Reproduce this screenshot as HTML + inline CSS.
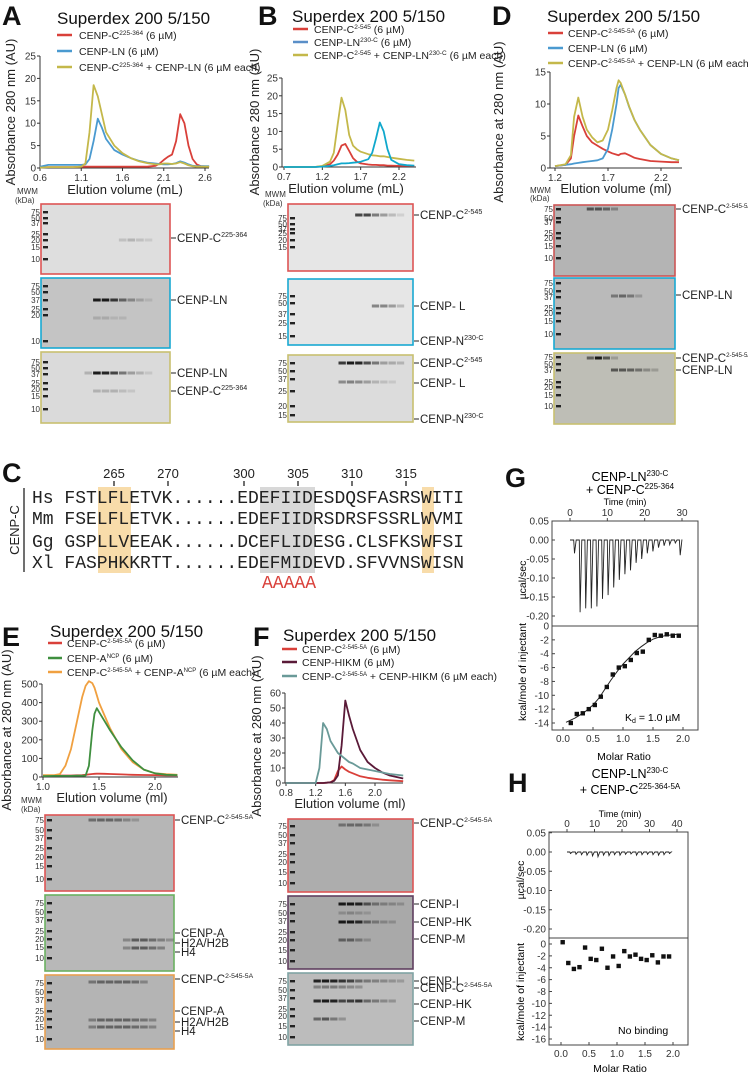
<!DOCTYPE html>
<html><head><meta charset="utf-8">
<style>
html,body{margin:0;padding:0;background:#fff;}
svg{display:block;font-family:"Liberation Sans",Arial,sans-serif;}
.lbl{font-size:10.5px;fill:#222}
.tk{font-size:10px;fill:#333}
.big{font-size:27px;font-weight:bold;fill:#111}
.ttl{font-size:17px;fill:#111}
.axt{font-size:13px;fill:#222}
.gl{font-size:11.5px;fill:#222}
.mk{font-size:8px;fill:#333}
.seq{font-family:"Liberation Mono",monospace;font-size:18px;fill:#222}
</style></head>
<body>
<svg id="fig" width="748" height="1075" viewBox="0 0 748 1075" xmlns="http://www.w3.org/2000/svg">
<!-- Panel A -->
<g>
<text class="big" x="2" y="25">A</text>
<text class="ttl" x="57" y="24">Superdex 200 5/150</text>
<g>
<line x1="57" x2="72" y1="35" y2="35" stroke="#d9403a" stroke-width="2.5"/>
<text class="lbl" x="79" y="39" font-size="10">CENP-C<tspan font-size="6.5" dy="-4">225-364</tspan><tspan dy="4"> (6 µM)</tspan></text>
<line x1="57" x2="72" y1="51" y2="51" stroke="#4a9ad0" stroke-width="2.5"/>
<text class="lbl" x="79" y="55" font-size="10">CENP-LN (6 µM)</text>
<line x1="57" x2="72" y1="67" y2="67" stroke="#c4b84a" stroke-width="2.5"/>
<text class="lbl" x="79" y="71" font-size="10">CENP-C<tspan font-size="6.5" dy="-4">225-364</tspan><tspan dy="4"> + CENP-LN (6 µM each)</tspan></text>
</g>
<text class="axt" transform="translate(15,112) rotate(-90)" text-anchor="middle">Absorbance 280 nm (AU)</text>
<text class="axt" x="125" y="194" text-anchor="middle">Elution volume (mL)</text>
<text class="mk" x="17" y="194" font-size="8.5">MWM</text><text class="mk" x="15" y="203" font-size="8.5">(kDa)</text>
</g>
<!-- Panel B -->
<g>
<text class="big" x="258" y="25">B</text>
<text class="ttl" x="292" y="22">Superdex 200 5/150</text>
<g>
<line x1="293" x2="308" y1="29" y2="29" stroke="#d9403a" stroke-width="2.5"/>
<text class="lbl" x="314" y="33" font-size="10">CENP-C<tspan font-size="6.5" dy="-4">2-545</tspan><tspan dy="4"> (6 µM)</tspan></text>
<line x1="293" x2="308" y1="42" y2="42" stroke="#5a8fc8" stroke-width="2.5"/>
<text class="lbl" x="314" y="46" font-size="10">CENP-LN<tspan font-size="6.5" dy="-4">230-C</tspan><tspan dy="4"> (6 µM)</tspan></text>
<line x1="293" x2="308" y1="55" y2="55" stroke="#c4b84a" stroke-width="2.5"/>
<text class="lbl" x="314" y="59" font-size="10">CENP-C<tspan font-size="6.5" dy="-4">2-545</tspan><tspan dy="4"> + CENP-LN</tspan><tspan font-size="6.5" dy="-4">230-C</tspan><tspan dy="4"> (6 µM each)</tspan></text>
</g>
<text class="axt" transform="translate(259,122) rotate(-90)" text-anchor="middle">Absorbance 280 nm (AU)</text>
<text class="axt" x="346" y="193" text-anchor="middle">Elution volume (mL)</text>
<text class="mk" x="265" y="197" font-size="8.5">MWM</text><text class="mk" x="263" y="206" font-size="8.5">(kDa)</text>
</g>
<!-- Panel D -->
<g>
<text class="big" x="492" y="25">D</text>
<text class="ttl" x="547" y="22">Superdex 200 5/150</text>
<g>
<line x1="548" x2="563" y1="33" y2="33" stroke="#d9403a" stroke-width="2.5"/>
<text class="lbl" x="568" y="37" font-size="10">CENP-C<tspan font-size="6.5" dy="-4">2-545-5A</tspan><tspan dy="4"> (6 µM)</tspan></text>
<line x1="548" x2="563" y1="48" y2="48" stroke="#4a9ad0" stroke-width="2.5"/>
<text class="lbl" x="568" y="52" font-size="10">CENP-LN (6 µM)</text>
<line x1="548" x2="563" y1="63" y2="63" stroke="#c4b84a" stroke-width="2.5"/>
<text class="lbl" x="568" y="67" font-size="9.5">CENP-C<tspan font-size="6.5" dy="-4">2-545-5A</tspan><tspan dy="4"> + CENP-LN (6 µM each)</tspan></text>
</g>
<text class="axt" transform="translate(503,122) rotate(-90)" text-anchor="middle">Absorbance at 280 nm (AU)</text>
<text class="axt" x="616" y="193" text-anchor="middle">Elution volume (ml)</text>
<text class="mk" x="530" y="193" font-size="8">MWM</text><text class="mk" x="530" y="201" font-size="8">(kDa)</text>
</g>
<!-- Panel C -->
<g>
<text class="big" x="2" y="482">C</text>
<rect x="98" y="487" width="33" height="86" fill="#f8dcaa"/>
<rect x="260" y="487" width="55" height="86" fill="#d8d8d8"/>
<rect x="422" y="487" width="12" height="86" fill="#f8dcaa"/>
<g font-size="13" fill="#222" text-anchor="middle">
<text x="114" y="478">265</text><text x="168" y="478">270</text>
<text x="244" y="478">300</text><text x="298" y="478">305</text>
<text x="352" y="478">310</text><text x="406" y="478">315</text>
<path d="M114 481v5M168 481v5M244 481v5M298 481v5M352 481v5M406 481v5" stroke="#222" stroke-width="1.3"/>
</g>
<line x1="24" y1="488" x2="24" y2="572" stroke="#222" stroke-width="1.3"/>
<text class="axt" font-size="15" transform="translate(19,530) rotate(-90)" text-anchor="middle">CENP-C</text>
<g>
<text class="seq" x="32" y="503">Hs FSTLFLETVK......EDEFIIDESDQSFASRSWITI</text>
<text class="seq" x="32" y="524">Mm FSELFLETVK......EDEFIIDRSDRSFSSRLWVMI</text>
<text class="seq" x="32" y="547">Gg GSPLLVEEAK......DCEFLIDESG.CLSFKSWFSI</text>
<text class="seq" x="32" y="568">Xl FASPHKKRTT......EDEFMIDEVD.SFVVNSWISN</text>
<text class="seq" x="262" y="588" fill="#d9403a" style="fill:#d9403a">AAAAA</text>
</g>
</g>
<!-- Panel E -->
<g>
<text class="big" x="2" y="646">E</text>
<text class="ttl" x="50" y="637">Superdex 200 5/150</text>
<g>
<line x1="48" x2="62" y1="643" y2="643" stroke="#d9403a" stroke-width="2.5"/>
<text class="lbl" x="67" y="647" font-size="9.5">CENP-C<tspan font-size="6" dy="-4">2-545-5A</tspan><tspan dy="4"> (6 µM)</tspan></text>
<line x1="48" x2="62" y1="658" y2="658" stroke="#3f8f3f" stroke-width="2.5"/>
<text class="lbl" x="67" y="662" font-size="9.5">CENP-A<tspan font-size="6" dy="-4">NCP</tspan><tspan dy="4">  (6 µM)</tspan></text>
<line x1="48" x2="62" y1="672" y2="672" stroke="#f0a040" stroke-width="2.5"/>
<text class="lbl" x="67" y="676" font-size="9.5">CENP-C<tspan font-size="6" dy="-4">2-545-5A</tspan><tspan dy="4"> + CENP-A</tspan><tspan font-size="6" dy="-4">NCP</tspan><tspan dy="4">  (6 µM each)</tspan></text>
</g>
<text class="axt" transform="translate(11,730) rotate(-90)" text-anchor="middle">Absorbance at 280 nm (AU)</text>
<text class="axt" x="112" y="802" text-anchor="middle">Elution volume (ml)</text>
<text class="mk" x="21" y="803">MWM</text><text class="mk" x="21" y="812">(kDa)</text>
</g>
<!-- Panel F -->
<g>
<text class="big" x="253" y="646">F</text>
<text class="ttl" x="283" y="641">Superdex 200 5/150</text>
<g>
<line x1="282" x2="297" y1="649" y2="649" stroke="#d9403a" stroke-width="2.5"/>
<text class="lbl" x="302" y="653" font-size="9.5">CENP-C<tspan font-size="6" dy="-4">2-545-5A</tspan><tspan dy="4"> (6 µM)</tspan></text>
<line x1="282" x2="297" y1="662" y2="662" stroke="#5a1a38" stroke-width="2.5"/>
<text class="lbl" x="302" y="666" font-size="9.5">CENP-HIKM  (6 µM)</text>
<line x1="282" x2="297" y1="676" y2="676" stroke="#6a9a98" stroke-width="2.5"/>
<text class="lbl" x="302" y="680" font-size="9.5">CENP-C<tspan font-size="6" dy="-4">2-545-5A</tspan><tspan dy="4"> + CENP-HIKM  (6 µM each)</tspan></text>
</g>
<text class="axt" transform="translate(261,736) rotate(-90)" text-anchor="middle">Absorbance at 280 nm (AU)</text>
<text class="axt" x="350" y="808" text-anchor="middle">Elution volume (ml)</text>
</g>
<!-- Panel G -->
<g>
<text class="big" x="505" y="487">G</text>
<text x="630" y="481" font-size="12.5" text-anchor="middle">CENP-LN<tspan font-size="8" dy="-5">230-C</tspan></text>
<text x="630" y="494" font-size="12.5" text-anchor="middle">+ CENP-C<tspan font-size="8" dy="-5">225-364</tspan></text>
<text x="625" y="505" font-size="9" text-anchor="middle">Time (min)</text>
<text x="526" y="580" font-size="10.5" text-anchor="middle" transform="rotate(-90,526,580)">µcal/sec</text>
<text x="526" y="672" font-size="10.5" text-anchor="middle" transform="rotate(-90,526,672)">kcal/mole of injectant</text>
<text x="624" y="760" font-size="10.5" text-anchor="middle">Molar Ratio</text>
<text x="625" y="721" font-size="10.5">K<tspan font-size="7" dy="2">d</tspan><tspan dy="-2"> = 1.0 µM</tspan></text>
</g>
<!-- Panel H -->
<g>
<text class="big" x="508" y="792">H</text>
<text x="630" y="778" font-size="12.5" text-anchor="middle">CENP-LN<tspan font-size="8" dy="-5">230-C</tspan></text>
<text x="630" y="794" font-size="12.5" text-anchor="middle">+ CENP-C<tspan font-size="8" dy="-5">225-364-5A</tspan></text>
<text x="620" y="817" font-size="9" text-anchor="middle">Time (min)</text>
<text x="524" y="880" font-size="10.5" text-anchor="middle" transform="rotate(-90,524,880)">µcal/sec</text>
<text x="524" y="992" font-size="10.5" text-anchor="middle" transform="rotate(-90,524,992)">kcal/mole of injectant</text>
<text x="620" y="1072" font-size="10.5" text-anchor="middle">Molar Ratio</text>
<text x="618" y="1034" font-size="10.5">No binding</text>
</g>
<g id="dyn"></g>
</svg>
<script>
// ---------- SEC chart data ----------
const aX = [0.6,0.7,0.8,1.0,1.1,1.15,1.2,1.25,1.3,1.35,1.4,1.5,1.6,1.7,1.8,1.9,2.0,2.05,2.1,2.15,2.2,2.25,2.3,2.35,2.4,2.45,2.5,2.55,2.65];
const aRed = [0.2,0.2,0.2,0.2,0.3,0.3,0.3,0.3,0.3,0.3,0.3,0.3,0.3,0.3,0.3,0.3,0.5,1,1.8,2.5,3,6,12,10,5,2,0.8,0.4,0.3];
const aBlue = [0.3,0.7,0.7,0.7,0.7,0.8,2,6,11,9,6.5,4,3,2.2,1.6,1.2,1,0.9,0.8,0.8,0.9,1.1,1.5,1.2,0.8,0.5,0.4,0.4,0.4];
const aYel = [0.1,0.2,0.2,0.2,0.3,1,8,18.5,16,12,8,5,3.3,2.2,1.5,1.1,0.8,0.8,1,1,0.9,1,1.3,1,0.6,0.4,0.3,0.3,0.3];
const aYTicks = [0,5,10,15,20,25];
const aXTicks = [0.6,1.1,1.6,2.1,2.6];

const bX = [0.7,0.9,1.1,1.2,1.3,1.35,1.4,1.45,1.5,1.55,1.6,1.65,1.7,1.8,1.85,1.9,1.95,2.0,2.05,2.1,2.2,2.3,2.4];
const bRed = [0,0,0,0.2,0.8,1.8,3.5,6,6.5,4.5,2.5,1.5,1,0.7,0.6,0.6,0.5,0.5,0.4,0.4,0.3,0.3,0.3];
const bCyan = [0,0,0,0.1,0.3,0.5,0.8,1,1,1.1,1.2,1.3,1.5,2.2,4,8,12.5,10,5,2,0.8,0.5,0.4];
const bYel = [0,0,0,0.3,1.5,4,12,19.5,16,9,6,5,4.3,3.6,3.3,3.2,3,3,2.8,2.6,2.3,2,1.8];
const bYTicks = [0,5,10,15,20,25];
const bXTicks = [0.7,1.2,1.7,2.2];

const dX = [1.2,1.3,1.35,1.38,1.42,1.46,1.5,1.55,1.6,1.65,1.7,1.74,1.78,1.8,1.82,1.86,1.9,1.95,2.0,2.1,2.2,2.3,2.37];
const dRed = [0.3,0.5,1.5,5,8.2,6.5,5,4,3.5,3,2.6,2.3,2.1,2,2.2,2.3,2,1.6,1.4,1.1,1,0.9,0.9];
const dBlue = [0.3,0.5,0.6,0.7,0.8,0.9,1,1.1,1.2,1.5,3,6,10,12.5,13,11.5,9.5,7.5,6,3.6,2.2,1.5,1.2];
const dYel = [0.3,0.6,2,8,11,8,6,4.8,4,4.3,6,9,12.5,13.7,13.3,11.5,9.6,7.5,6,3.6,2.2,1.5,1.2];
const dYTicks = [0,5,10,15];
const dXTicks = [1.2,1.7,2.2];

const eX = [1.0,1.1,1.15,1.2,1.25,1.3,1.35,1.38,1.41,1.44,1.46,1.48,1.5,1.55,1.6,1.7,1.8,1.9,2.0,2.1,2.2];
const eRed = [8,8,8,8,8,9,10,12,14,16,17,18,18,17,16,14,12,11,10,9,9];
const eGreen = [5,6,6,6,6,7,7,8,60,250,340,370,350,300,250,160,90,40,20,12,10];
const eOrange = [10,10,15,60,150,290,430,490,515,505,480,440,400,330,260,150,80,40,20,15,12];
const eYTicks = [0,100,200,300,400,500];
const eXTicks = [1.0,1.5,2.0];

const fX = [0.8,1.0,1.2,1.25,1.3,1.35,1.4,1.45,1.5,1.55,1.6,1.65,1.7,1.8,1.9,2.0,2.1,2.2,2.38];
const fRed = [0,0,0,0,0,0.2,0.5,2,8,11,9,7.5,6.5,4.5,3.5,2.8,2.2,1.8,1.2];
const fPurple = [0,0,0,0,0,0.2,0.5,1.5,5,25,55,45,36,22,14,10,7,5,3];
const fTeal = [0,0,0,10,40,36,28,24,20,18,16,14,13,10,9,8,7,6,5];
const fYTicks = [0,10,20,30,40,50,60];
const fXTicks = [0.8,1.2,1.6,2.0];

// ---------- ITC data ----------
const gInjTime = [1,2.5,4,5.5,7,8.5,10,11.5,13,14.5,16,17.5,19,20.5,22,23.5,25,26.5,28,29.3];
const gInjPeak = [-0.035,-0.19,-0.18,-0.18,-0.175,-0.155,-0.145,-0.125,-0.105,-0.09,-0.08,-0.06,-0.05,-0.035,-0.03,-0.02,-0.015,-0.012,-0.008,-0.04];
const gRatio = [0.13,0.23,0.33,0.43,0.53,0.63,0.73,0.83,0.93,1.03,1.13,1.23,1.33,1.43,1.53,1.63,1.73,1.83,1.93];
const gHeat = [-14,-12.7,-12.6,-12,-11.4,-10.2,-8.8,-7,-6,-5.8,-4.9,-3.9,-3.7,-2,-1.3,-1.4,-1.2,-1.4,-1.4];
const gFitX = [0.05,0.2,0.35,0.5,0.6,0.7,0.8,0.9,1.0,1.1,1.2,1.3,1.4,1.5,1.6,1.7,1.8,1.9];
const gFitY = [-13.9,-13.3,-12.5,-11.4,-10.4,-9.1,-7.8,-6.6,-5.5,-4.6,-3.7,-3.0,-2.4,-1.9,-1.6,-1.4,-1.3,-1.2];
const gTopTicks = [0.05,0.00,-0.05,-0.10,-0.15,-0.20];
const gBotTicks = [0,-2,-4,-6,-8,-10,-12,-14];
const gTimeTicks = [0,10,20,30];
const gRatioTicks = [0.0,0.5,1.0,1.5,2.0];

const hInjTime = [1,3,5,7,9,11,13,15,17,19,21,23,25,27,29,31,33,35,37];
const hInjPeak = [-0.004,-0.006,-0.007,-0.008,-0.01,-0.012,-0.008,-0.009,-0.007,-0.008,-0.006,-0.005,-0.008,-0.007,-0.006,-0.007,-0.008,-0.007,-0.004];
const hRatio = [0.03,0.13,0.23,0.33,0.43,0.53,0.63,0.73,0.83,0.93,1.03,1.13,1.23,1.33,1.43,1.53,1.63,1.73,1.83,1.93];
const hHeat = [0.3,-3.2,-4.2,-3.9,-0.6,-2.5,-2.7,-0.8,-4.0,-2.1,-3.7,-1.2,-2.1,-1.8,-2.5,-2.7,-1.9,-3.1,-2.1,-2.1];
const hTopTicks = [0.05,0.00,-0.05,-0.10,-0.15,-0.20];
const hBotTicks = [0,-2,-4,-6,-8,-10,-12,-14,-16];
const hTimeTicks = [0,10,20,30,40];
const hRatioTicks = [0.0,0.5,1.0,1.5,2.0];

const NS = "http://www.w3.org/2000/svg";
const dyn = document.getElementById('dyn');
function mk(tag, attrs, parent){
  const el = document.createElementNS(NS, tag);
  for (const k in attrs) el.setAttribute(k, attrs[k]);
  (parent||dyn).appendChild(el);
  return el;
}
function lin(d0,d1,r0,r1){ return v => r0 + (v-d0)*(r1-r0)/(d1-d0); }

function secChart(name, xs, series, colors, x, y, yt, xt, x0, yAxisX, xEnd){
  const g = mk('g', {});
  
  
  const yBase = y(0);
  const ax = mk('path', {d:`M${yAxisX} ${y(yt[yt.length-1])} V${yBase} H${xEnd}`, stroke:'#333', fill:'none', 'stroke-width':1}, g);
  
  
  yt.forEach(v => {
    const t = mk('line', {x1:yAxisX-3, x2:yAxisX, y1:y(v), y2:y(v), stroke:'#333'}, g);
    
    
    const l = mk('text', {x:yAxisX-4, y:y(v)+3.5, 'text-anchor':'end', class:'tk'}, g);
    
    
    l.textContent = v;
  });
  xt.forEach(v => {
    const t = mk('line', {x1:x(v), x2:x(v), y1:yBase, y2:yBase+3, stroke:'#333'}, g);
    
    
    const l = mk('text', {x:x(v), y:yBase+13, 'text-anchor':'middle', class:'tk'}, g);
    
    
    l.textContent = v.toFixed(1);
  });
  series.forEach((s,i) => {
    const d = xs.map((xv,j) => (j?'L':'M') + x(xv).toFixed(1) + ' ' + y(s[j]).toFixed(1)).join(' ');
    const p = mk('path', {d:d, fill:'none', stroke:colors[i], 'stroke-width':1.8, 'stroke-linejoin':'round'}, g);
    
    
  });
}
secChart('chart-a', aX, [aRed,aBlue,aYel], ['#d9403a','#4a9ad0','#c4b84a'], lin(0.6,2.6,40,205), lin(0,25,168,56), aYTicks, aXTicks, 0, 40, 209);
secChart('chart-b', bX, [bRed,bYel,bCyan], ['#d9403a','#c4b84a','#10a8cc'], lin(0.7,2.2,284,399), lin(0,25,167,78), bYTicks, bXTicks, 0, 282, 416);
secChart('chart-d', dX, [dRed,dBlue,dYel], ['#d9403a','#4a9ad0','#c4b84a'], lin(1.2,2.2,555,661), lin(0,15,168,72), dYTicks, dXTicks, 0, 550, 682);
secChart('chart-e', eX, [eRed,eOrange,eGreen], ['#d9403a','#f0a040','#3f8f3f'], lin(1.0,2.0,43,155), lin(0,500,777,684), eYTicks, eXTicks, 0, 42, 178);
secChart('chart-f', fX, [fRed,fPurple,fTeal], ['#d9403a','#5a1a38','#6a9a98'], lin(0.8,2.0,286,375), lin(0,60,783,693), fYTicks, fXTicks, 0, 285, 403);

// ---------- gels ----------
const gels = [
 {n:'gel-a-red', x:41,y:204,w:129,h:70,b:'#d55',f:'#dedede',fs:11.5, mk:[['75',8],['50',14],['37',19],['25',30],['20',36],['15',43],['10',55]], bands:[[36,9,[.15,.2,.15,.1]]], labs:[[34,'CENP-C','225-364']]},
 {n:'gel-a-blue', x:41,y:278,w:129,h:70,b:'#19a9d2',f:'#c4c4c4',fs:11.5, mk:[['75',8],['50',14],['37',22],['25',31],['20',37],['10',63]], bands:[[22,6,[.95,.95,.8,.55,.35,.2,.1]],[40,6,[.15,.15,.1,.1]]], labs:[[22,'CENP-LN','']]},
 {n:'gel-a-yellow', x:41,y:352,w:129,h:71,b:'#c8c070',f:'#dadada',fs:11.5, mk:[['75',10],['50',16],['37',22],['25',31],['20',37],['15',44],['10',57]], bands:[[21,5,[.2,.95,.9,.75,.5,.3,.2,.1]],[39,6,[.2,.2,.2,.15,.1]]], labs:[[21,'CENP-LN',''],[39,'CENP-C','225-364']]},
 {n:'gel-b-red', x:288,y:204,w:125,h:67,b:'#d55',f:'#e6e6e6',fs:11.5, mk:[['75',14],['50',20],['37',25],['25',29],['20',36],['15',43]], bands:[[11,8,[.75,.75,.5,.35,.2,.1]]], labs:[[11,'CENP-C','2-545']]},
 {n:'gel-b-blue', x:288,y:279,w:125,h:66,b:'#19a9d2',f:'#e6e6e6',fs:11.5, mk:[['75',17],['50',24],['37',35],['25',44],['15',57]], bands:[[27,10,[.45,.45,.35,.2]]], labs:[[27,'CENP- L',''],[62,'CENP-N','230-C']]},
 {n:'gel-b-yellow', x:288,y:355,w:125,h:67,b:'#c8c070',f:'#dcdcdc',fs:11.5, mk:[['75',8],['50',16],['37',24],['25',36],['20',51],['15',60]], bands:[[8,6,[.8,.95,.9,.7,.5,.3,.25,.2]],[27,6,[.4,.45,.4,.3,.2,.15,.1]]], labs:[[8,'CENP-C','2-545'],[28,'CENP- L',''],[64,'CENP-N','230-C']]},
 {n:'gel-d-red', x:554,y:205,w:121,h:71,b:'#c55',f:'#b4b4b4',fs:10, mk:[['75',4],['50',13],['37',17],['25',28],['20',33],['15',41],['10',53]], bands:[[4,4,[.6,.6,.5,.3]]], labs:[[4,'CENP-C','2-545-5A']]},
 {n:'gel-d-blue', x:554,y:278,w:121,h:71,b:'#19a9d2',f:'#bababa',fs:10, mk:[['75',5],['50',13],['37',19],['25',30],['20',35],['15',43],['10',56]], bands:[[18,7,[.4,.5,.4,.2]]], labs:[[17,'CENP-LN','']]},
 {n:'gel-d-yellow', x:554,y:353,w:121,h:71,b:'#c8c070',f:'#bebeb6',fs:10, mk:[['75',4],['50',11],['37',17],['25',29],['20',34],['15',42],['10',53]], bands:[[5,4,[.55,.95,.6,.2]],[17,7,[.6,.6,.55,.45,.3,.2]]], labs:[[5,'CENP-C','2-545-5A'],[17,'CENP-LN','']]},
 {n:'gel-e-red', x:45,y:815,w:129,h:76,b:'#d55',f:'#b6b6b6',fs:11, mk:[['75',5],['50',15],['37',23],['25',33],['20',42],['15',51],['10',64]], bands:[[5,5,[.45,.5,.5,.45,.3,.2]]], labs:[[5,'CENP-C','2-545-5A']]},
 {n:'gel-e-green', x:45,y:895,w:129,h:76,b:'#6ab060',f:'#b8b8b8',fs:11, mk:[['75',8],['50',17],['37',25],['25',36],['20',44],['15',52],['10',63]], bands:[[45,9,[.3,.55,.55,.45,.35,.25]],[53,9,[.3,.55,.55,.45,.35]]], labs:[[38,'CENP-A',''],[48,'H2A/H2B',''],[57,'H4','']]},
 {n:'gel-e-orange', x:45,y:975,w:129,h:74,b:'#e8a050',f:'#b4b4b4',fs:11, mk:[['75',8],['50',17],['37',25],['25',36],['20',44],['15',52],['10',64]], bands:[[7,5,[.4,.5,.5,.5,.5,.45,.3]],[45,5,[.35,.5,.5,.5,.5,.45,.4,.3]],[52,5,[.35,.5,.5,.5,.5,.45,.4,.3]]], labs:[[4,'CENP-C','2-545-5A'],[36,'CENP-A',''],[47,'H2A/H2B',''],[56,'H4','']]},
 {n:'gel-f-red', x:288,y:819,w:125,h:73,b:'#d55',f:'#adadad',fs:11, mk:[['75',7],['50',16],['37',24],['25',35],['20',43],['15',53],['10',64]], bands:[[6,6,[.4,.45,.45,.35,.2]]], labs:[[4,'CENP-C','2-545-5A']]},
 {n:'gel-f-purple', x:288,y:896,w:125,h:73,b:'#604060',f:'#a9a9a9',fs:11, mk:[['75',8],['50',17],['37',25],['25',36],['20',44],['15',54],['10',65]], bands:[[8,6,[.95,.95,.9,.6,.4,.3,.25,.2]],[26,6,[.95,.95,.85,.5,.35,.25,.2]],[44,6,[.5,.5,.35,.2]],[17,6,[.2,.25,.2,.15]]], labs:[[8,'CENP-I',''],[26,'CENP-HK',''],[43,'CENP-M','']]},
 {n:'gel-f-teal', x:288,y:973,w:125,h:72,b:'#80a4a4',f:'#bcbcbc',fs:11, mk:[['75',8],['50',17],['37',25],['25',36],['20',43],['15',53],['10',64]], bands:[[8,3,[.9,.95,.9,.8,.7,.5,.4,.35,.3,.25,.2]],[14,3,[.35,.4,.4,.35,.3,.25]],[28,3,[.85,.95,.9,.7,.75,.8,.5,.4,.3,.25]],[46,3,[.5,.6,.4,.25]]], labs:[[8,'CENP-I',''],[15,'CENP-C','2-545-5A'],[31,'CENP-HK',''],[48,'CENP-M','']]}
];
gels.forEach(G => {
  const g = mk('g', {});
  
  
  const r = mk('rect', {x:G.x, y:G.y, width:G.w, height:G.h, fill:G.f, stroke:G.b, 'stroke-width':1.6}, g);
  
  
  const lw = G.w/15;
  G.mk.forEach(m => {
    const b = mk('rect', {x:G.x+2, y:G.y+m[1]-1, width:5, height:2.4, fill:'#222'}, g);
    
    
    const t = mk('text', {x:G.x-1, y:G.y+m[1]+3, 'text-anchor':'end', class:'mk'}, g);
    
    
    t.textContent = m[0];
  });
  G.bands.forEach(bd => {
    bd[2].forEach((v,i) => {
      const b = mk('rect', {x:G.x+(bd[1]+i)*lw+0.5, y:G.y+bd[0]-1.5, width:lw-1, height:3, fill:'#111', opacity:v}, g);
      
      
    });
  });
  G.labs.forEach(L => {
    const yy = G.y + L[0];
    const d = mk('line', {x1:G.x+G.w+1, x2:G.x+G.w+6, y1:yy, y2:yy, stroke:'#222'}, g);
    
    
    const t = mk('text', {x:G.x+G.w+7, y:yy+4, class:'gl', 'font-size':G.fs}, g);
    
    
    t.textContent = L[1];
    if (L[2]) { const s = mk('tspan', {'font-size':G.fs*0.62, dy:-5}, t); s.textContent = L[2]; }
  });
});

// ---------- ITC panels ----------
function itc(name, L, R, top, mid, bot, yTop, yBot, tx, injT, injP, rX, topT, botT, timeT, ratioT, fitX, fitY){
  const g = mk('g', {});
  
  
  const f = mk('path', {d:`M${L} ${top}H${R}V${bot}H${L}Z M${L} ${mid}H${R}`, fill:'none', stroke:'#444', 'stroke-width':1}, g);
  
  
  topT.forEach(v => {
    const t = mk('line', {x1:L, x2:L+3, y1:yTop(v), y2:yTop(v), stroke:'#444'}, g);
    
    
    const l = mk('text', {x:L-3, y:yTop(v)+3.5, 'text-anchor':'end', class:'tk'}, g);
    
    
    l.textContent = v.toFixed(2);
  });
  botT.forEach(v => {
    const t = mk('line', {x1:L, x2:L+3, y1:yBot(v), y2:yBot(v), stroke:'#444'}, g);
    
    
    const l = mk('text', {x:L-3, y:yBot(v)+3.5, 'text-anchor':'end', class:'tk'}, g);
    
    
    l.textContent = v;
  });
  timeT.forEach(v => {
    const t = mk('line', {x1:tx(v), x2:tx(v), y1:top, y2:top-3, stroke:'#444'}, g);
    
    
    const l = mk('text', {x:tx(v), y:top-5, 'text-anchor':'middle', class:'tk', 'font-size':9.5}, g);
    
    
    l.textContent = v;
  });
  ratioT.forEach(v => {
    const t = mk('line', {x1:rX(v), x2:rX(v), y1:bot, y2:bot-3, stroke:'#444'}, g);
    
    
    const l = mk('text', {x:rX(v), y:bot+12, 'text-anchor':'middle', class:'tk'}, g);
    
    
    l.textContent = v.toFixed(1);
  });
  let d = `M${tx(0)} ${yTop(0)}`;
  injT.forEach((t,i) => {
    d += ` L${tx(t).toFixed(1)} ${yTop(0)} L${(tx(t)+0.8).toFixed(1)} ${yTop(injP[i]).toFixed(1)} L${(tx(t)+2.5).toFixed(1)} ${yTop(0)}`;
  });
  d += ` L${tx(injT[injT.length-1])+2} ${yTop(0)}`;
  const raw = mk('path', {d:d, fill:'none', stroke:'#222', 'stroke-width':0.9}, g);
  
  
  if (fitX) {
    const fd = fitX.map((v,j) => (j?'L':'M') + rX(v).toFixed(1) + ' ' + yBot(fitY[j]).toFixed(1)).join(' ');
    const fp = mk('path', {d:fd, fill:'none', stroke:'#222', 'stroke-width':1}, g);
    
    
  }
  return g;
}
const gR = lin(0,2,563,683), gBY = lin(0,-14,626,723);
const gG = itc('itc-g', 552, 698, 521, 626, 730, lin(0,-0.2,540,616), gBY, lin(0,30,570,682), gInjTime, gInjPeak, gR, gTopTicks, gBotTicks, gTimeTicks, gRatioTicks, gFitX, gFitY);
gRatio.forEach((v,i) => {
  const p = mk('rect', {x:gR(v)-2.2, y:gBY(gHeat[i])-2.2, width:4.4, height:4.4, fill:'#111'}, gG);
  
  
});
const hR = lin(0,2,561,673), hBY = lin(0,-16,944,1039);
const gH = itc('itc-h', 549, 688, 832, 938, 1045, lin(0,-0.2,852,929), hBY, lin(0,40,567,677), hInjTime, hInjPeak, hR, hTopTicks, hBotTicks, hTimeTicks, hRatioTicks, null, null);
hRatio.forEach((v,i) => {
  const p = mk('rect', {x:hR(v)-2.2, y:hBY(hHeat[i])-2.2, width:4.4, height:4.4, fill:'#111'}, gH);
  
  
});
</script>
</body></html>
